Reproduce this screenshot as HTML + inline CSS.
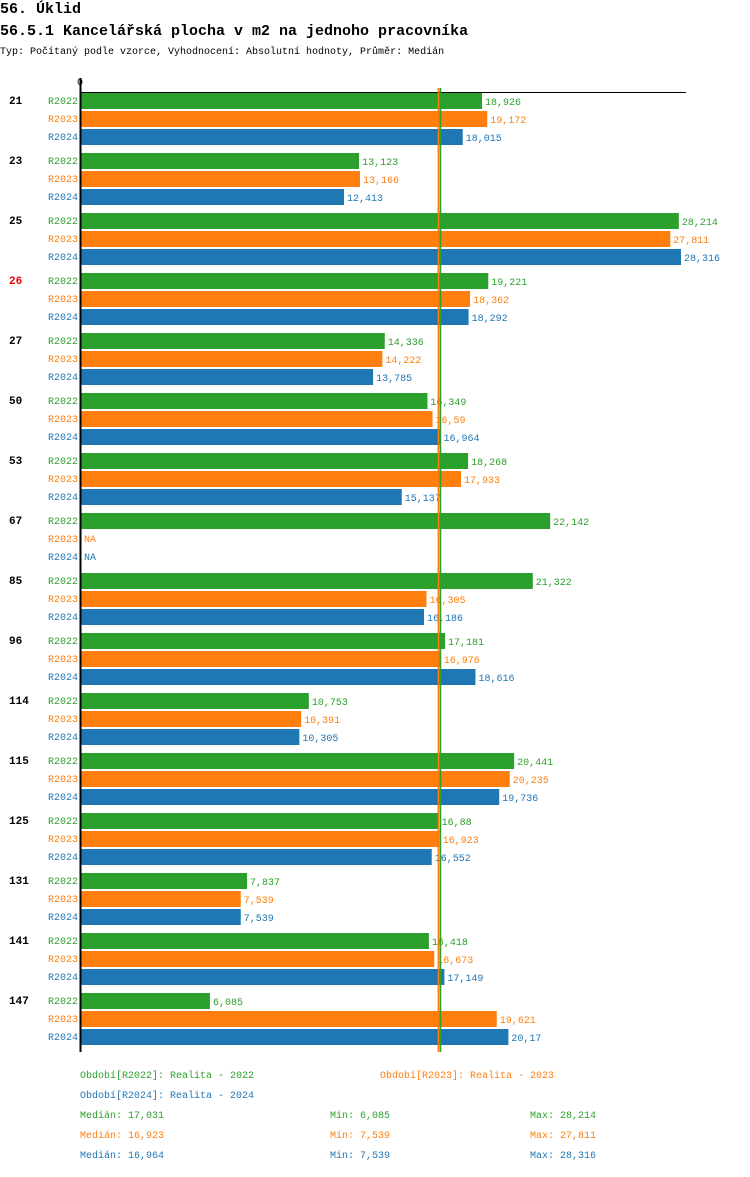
<!DOCTYPE html>
<html><head><meta charset="utf-8"><style>
body{margin:0;background:#fff;width:750px;height:1172px;overflow:hidden;font-family:"Liberation Mono",monospace}
svg text{font-family:"Liberation Mono",monospace}
</style></head><body>
<svg id="c" width="750" height="1172" xmlns="http://www.w3.org/2000/svg">
<text x="0" y="13" font-size="15" font-weight="bold">56. Úklid</text>
<text x="0" y="35" font-size="15" font-weight="bold">56.5.1 Kancelářská plocha v m2 na jednoho pracovníka</text>
<text x="0" y="54" font-size="10">Typ: Počítaný podle vzorce, Vyhodnocení: Absolutní hodnoty, Průměr: Medián</text>
<text x="80" y="85" font-size="10" text-anchor="middle">0</text>
<g id="bars"></g>
<line x1="80" y1="92.5" x2="686" y2="92.5" stroke="#000" stroke-width="1"/>
<line x1="80.5" y1="78" x2="80.5" y2="1052" stroke="#000" stroke-width="2"/>
<g id="medians"></g>
<g id="legend" font-size="10">
<text x="80" y="1078" fill="#2ca02c">Období[R2022]: Realita - 2022</text>
<text x="380" y="1078" fill="#ff7f0e">Období[R2023]: Realita - 2023</text>
<text x="80" y="1098" fill="#1f77b4">Období[R2024]: Realita - 2024</text>
</g>
<g id="stats" font-size="10"></g>
</svg>
<script>
const categories=["21","23","25","26","27","50","53","67","85","96","114","115","125","131","141","147"];
const seriesNames=["R2022","R2023","R2024"];
const r2022=[18.926,13.123,28.214,19.221,14.336,16.349,18.268,22.142,21.322,17.181,10.753,20.441,16.88,7.837,16.418,6.085];
const r2023=[19.172,13.166,27.811,18.362,14.222,16.59,17.933,null,16.305,16.976,10.391,20.235,16.923,7.539,16.673,19.621];
const r2024=[18.015,12.413,28.316,18.292,13.785,16.964,15.137,null,16.186,18.616,10.305,19.736,16.552,7.539,17.149,20.17];
const medians=[17.031,16.923,16.964];
const mins=[6.085,7.539,7.539];
const maxs=[28.214,27.811,28.316];
const colors=["#2ca02c","#ff7f0e","#1f77b4"];
const NS="http://www.w3.org/2000/svg";
const x=v=>81+v*(600/28.316);
const y=(g,s)=>92+g*60+s*18;
const fmt=v=>String(v).replace('.',',');
const bars=document.getElementById('bars');
function mk(tag,attrs,parent,txt){const e=document.createElementNS(NS,tag);for(const k in attrs)e.setAttribute(k,attrs[k]);if(txt!==undefined)e.textContent=txt;parent.appendChild(e);return e;}
const series=[r2022,r2023,r2024];
categories.forEach((c,g)=>{
  const t=mk('text',{x:9,y:y(g,0)+12,'font-size':11,'font-weight':'bold',fill:c==="26"?"#e00":"#000"},bars,c);
  
  
  series.forEach((arr,s)=>{
    const l=mk('text',{x:78,y:y(g,s)+12,'font-size':10,'text-anchor':'end',fill:colors[s]},bars,seriesNames[s]);
    
    
    const v=arr[g];
    if(v===null){
      const n=mk('text',{x:84,y:y(g,s)+12,'font-size':10,fill:colors[s]},bars,'NA');
      
      
      return;
    }
    const r=mk('rect',{x:81,y:y(g,s)+1,width:x(v)-81,height:16,fill:colors[s]},bars);
    
    
    const vl=mk('text',{x:x(v)+3,y:y(g,s)+13,'font-size':10,fill:colors[s]},bars,fmt(v.toFixed(3).replace(/0+$/,'').replace(/\.$/,'')));
    
    
  });
});
const med=document.getElementById('medians');
[2,1,0].forEach(s=>{
  const xv=Math.round(x(medians[s])-2)+0.5;
  const l=mk('line',{x1:xv,x2:xv,y1:88,y2:1052,stroke:colors[s],'stroke-width':1.5},med);
  
  
});
const st=document.getElementById('stats');
seriesNames.forEach((n,s)=>{
  const yy=1118+s*20;
  const a=mk('text',{x:80,y:yy,fill:colors[s]},st,'Medián: '+fmt(medians[s]));
  
  
  const b=mk('text',{x:330,y:yy,fill:colors[s]},st,'Min: '+fmt(mins[s]));
  
  
  const m=mk('text',{x:530,y:yy,fill:colors[s]},st,'Max: '+fmt(maxs[s]));
  
  
});
</script>
</body></html>
